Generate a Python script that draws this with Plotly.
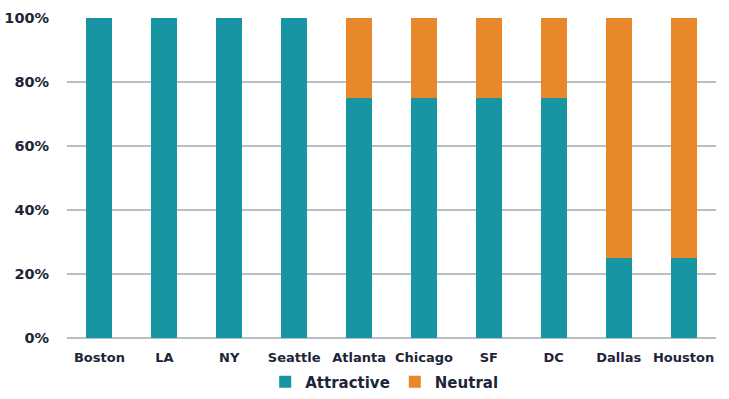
import plotly.graph_objects as go

cities = ["Boston", "LA", "NY", "Seattle", "Atlanta", "Chicago", "SF", "DC", "Dallas", "Houston"]
attractive = [100, 100, 100, 100, 75, 75, 75, 75, 25, 25]
neutral = [0, 0, 0, 0, 25, 25, 25, 25, 75, 75]
y_ticks = [0, 20, 40, 60, 80, 100]
y_tick_labels = ["0%", "20%", "40%", "60%", "80%", "100%"]

dark = "#1c2638"
fam = "DejaVu Sans"
W, H = 729, 399
fig = go.Figure()
fig.add_trace(go.Bar(x=cities, y=attractive, name="Attractive", marker_color="#1795a2", marker_line_width=0))
fig.add_trace(go.Bar(x=cities, y=neutral, name="Neutral", marker_color="#e8882a", marker_line_width=0))

fig.update_layout(
    barmode="stack",
    bargap=0.6,
    width=W, height=H,
    margin=dict(l=67, r=13, t=18, b=61, autoexpand=False),
    plot_bgcolor="white", paper_bgcolor="white",
    font=dict(family=fam, color=dark),
    legend=dict(orientation="h", x=0.527, xanchor="center", xref="container",
                y=17/H, yanchor="middle", yref="container",
                font=dict(size=15, family=fam, weight="bold"), itemwidth=30,
                traceorder="normal"),
    showlegend=True,
)
fig.update_xaxes(tickfont=dict(size=13, weight="bold"), showgrid=False,
                 showline=False, ticks="outside", ticklen=7, tickcolor="white")
fig.update_yaxes(range=[0, 100], tickvals=y_ticks, ticktext=y_tick_labels,
                 tickfont=dict(size=14.5, weight="bold"), showgrid=True, gridcolor="#b9c0c5",
                 gridwidth=2, zeroline=True, zerolinecolor="#b9c0c5", zerolinewidth=2,
                 ticks="outside", ticklen=14, tickcolor="white")
fig.write_html("out.html", config={"displayModeBar": False},
               post_script="document.body.style.margin='0';")
